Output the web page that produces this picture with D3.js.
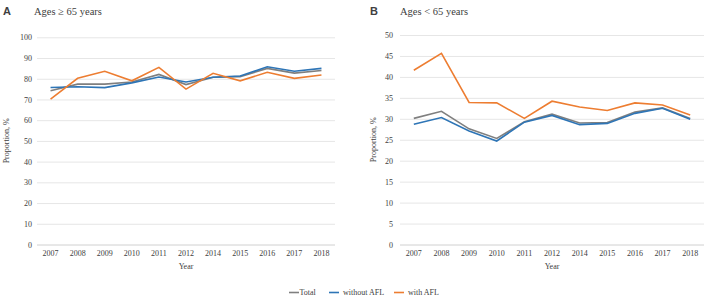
<!DOCTYPE html>
<html><head><meta charset="utf-8">
<script src="https://cdn.jsdelivr.net/npm/d3@7"></script>
<style>body{margin:0;background:#fff}svg{display:block}text{font-family:"Liberation Serif","Times New Roman",serif;fill:#404040}</style>
</head><body><svg id="c" width="708" height="301"></svg>
<script>
const years = ["2007","2008","2009","2010","2011","2012","2014","2015","2016","2017","2018"];
const seriesNames = ["Total","without AFL","with AFL"];
const seriesColors = ["#7f7f7f","#2e75b6","#ed7d31"];
const aTotal = [74.2,77.4,77.4,78.4,82.1,77.2,80.7,81.0,85.0,82.7,84.0];
const aWithout = [75.8,76.1,75.7,78.0,80.8,78.4,80.7,81.3,85.8,83.6,85.0];
const aWith = [70.2,80.2,83.6,79.0,85.5,75.0,82.6,79.0,83.1,80.2,81.8];
const bTotal = [30.1,31.8,27.6,25.3,29.3,31.1,29.0,29.1,31.6,32.6,30.1];
const bWithout = [28.7,30.3,27.1,24.7,29.2,30.8,28.6,28.9,31.3,32.5,29.9];
const bWith = [41.6,45.6,33.9,33.8,30.1,34.2,32.8,32.0,33.8,33.3,30.9];
const aTicks = [0,10,20,30,40,50,60,70,80,90,100];
const bTicks = [0,5,10,15,20,25,30,35,40,45,50];

const svg = d3.select("#c");

function panel(o){
  const g = svg.append("g");
  const x = d3.scaleBand().domain(years).range([o.x0,o.x1]).padding(0);
  const y = d3.scaleLinear().domain([0,o.max]).range([o.yb,o.yt]);
  g.append("g").selectAll("line").data(o.ticks).join("line")
    .attr("x1",o.x0).attr("x2",o.x1)
    .attr("y1",d=>y(d)+0.5).attr("y2",d=>y(d)+0.5)
    .attr("stroke",d=>d===0?"#d0d0d0":"#e6e6e6").attr("stroke-width",1);
  const ya = g.append("g").attr("transform",`translate(${o.x0-o.tickOff},0)`)
    .call(d3.axisLeft(y).tickValues(o.ticks).tickSize(0).tickPadding(0));
  ya.select(".domain").remove();
  ya.selectAll("text").attr("font-size","8px").attr("font-family","Liberation Serif").attr("fill","#404040");
  const xa = g.append("g").attr("transform",`translate(0,${o.yb+6})`)
    .call(d3.axisBottom(x).tickSize(0).tickPadding(0));
  xa.select(".domain").remove();
  xa.selectAll("text").attr("font-size","8px").attr("font-family","Liberation Serif").attr("fill","#404040").attr("dy","0.71em");
  const line = d3.line().x((d,i)=>x(years[i])+x.bandwidth()/2).y(d=>y(d));
  o.data.forEach((arr,k)=>{
    g.append("path").datum(arr).attr("d",line).attr("fill","none")
      .attr("stroke",seriesColors[k]).attr("stroke-width",1.6).attr("stroke-linejoin","miter");
  });
  g.append("text").attr("x",o.letterX).attr("y",15).text(o.letter)
    .attr("font-weight","bold").attr("font-size","11px").style("font-family","Liberation Sans").attr("fill","#000");
  g.append("text").attr("x",o.titleX).attr("y",15).text(o.title).attr("font-size","10.5px").attr("fill","#222");
  g.append("text").attr("x",(o.x0+o.x1)/2).attr("y",269).attr("text-anchor","middle").attr("font-size","8px").text("Year");
  g.append("text").attr("transform",`translate(${o.ylabX},${(o.yt+o.yb)/2}) rotate(-90)`)
    .attr("text-anchor","middle").attr("font-size","8px").text("Proportion, %");
}

panel({x0:37,x1:335,yt:37.3,yb:244.5,max:100,ticks:aTicks,data:[aTotal,aWithout,aWith],
  letter:"A",letterX:3,title:"Ages \u2265 65 years",titleX:34,ylabX:9,tickOff:5});
panel({x0:400,x1:704,yt:35,yb:244.5,max:50,ticks:bTicks,data:[bTotal,bWithout,bWith],
  letter:"B",letterX:370,title:"Ages < 65 years",titleX:400,ylabX:376,tickOff:7});

const legX = [289,329,394];
const lg = svg.append("g");
seriesNames.forEach((n,i)=>{
  lg.append("line").attr("x1",legX[i]).attr("x2",legX[i]+10).attr("y1",292.5).attr("y2",292.5)
    .attr("stroke",seriesColors[i]).attr("stroke-width",1.6);
  lg.append("text").attr("x",legX[i]+(i===0?10.5:14)).attr("y",295).attr("font-size","8px").text(n);
});
</script></body></html>
